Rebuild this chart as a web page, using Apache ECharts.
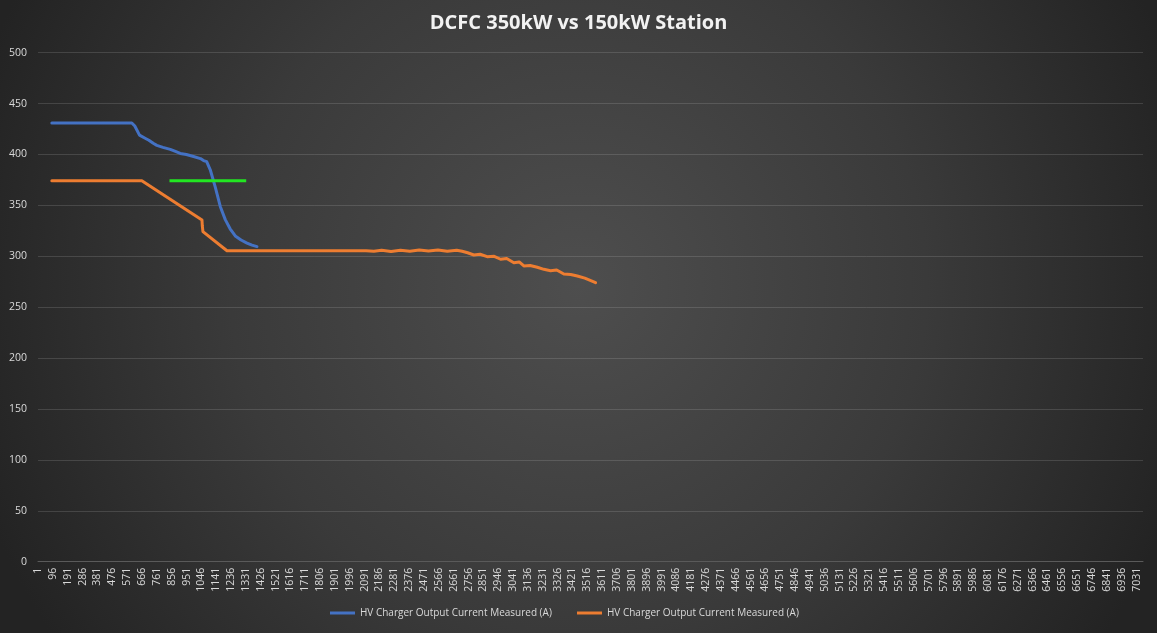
<!DOCTYPE html>
<html>
<head>
<meta charset="utf-8">
<script src="https://cdn.jsdelivr.net/npm/echarts@6/dist/echarts.min.js"></script>
<style>
html,body{margin:0;padding:0;background:#2a2a2a;}
#chart{width:1157px;height:633px;}
</style>
</head>
<body>
<div id="chart"></div>
<script>
// ---- data ----
const TITLE = 'DCFC 350kW vs 150kW Station';
const SERIES_NAME = 'HV Charger Output Current Measured (A)';
const SAMPLE_COUNT = 7072;          // number of samples on the category axis
const LABEL_STEP = 95;              // every 95th sample is labelled (1, 96, 191 ...)

// 350 kW station (blue)
const blueX = [89, 601, 620, 650, 686, 710, 738, 761, 800, 847, 880, 911, 950, 996, 1040, 1060, 1080, 1103, 1135, 1167, 1199, 1230, 1263, 1300, 1338, 1370, 1402];
const blueY = [431, 431, 428, 419, 416, 414, 411, 409, 407, 405, 403, 401, 400, 398, 396, 394, 393, 385, 368, 349, 336, 327, 320, 316, 313, 311, 309.5];

// 150 kW station (orange)
const orangeX = [89, 665, 1050, 1052, 1056, 1210, 1500, 1800, 2100, 2150, 2200, 2260, 2320, 2380, 2440, 2500, 2560, 2620, 2680, 2715, 2750, 2790, 2830, 2875, 2920, 2961, 3000, 3046, 3080, 3110, 3150, 3196, 3238, 3281, 3320, 3366, 3410, 3452, 3500, 3569];
const orangeY = [374.3, 374.3, 335.7, 330, 324.2, 305.5, 305.5, 305.5, 305.5, 305, 306, 304.8, 306, 305, 306.2, 305.2, 306.2, 305, 306, 305, 303.5, 301.3, 302, 299.6, 300, 297.1, 297.8, 293.7, 294.5, 290.5, 291, 289.2, 287.2, 285.9, 286.5, 282.6, 282.2, 280.7, 278.5, 274.1];

// target level (green)
const greenX = [842, 1333];
const greenY = [374.3, 374.3];

// ---- build ----
const categories = [];
for (let i = 1; i <= SAMPLE_COUNT; i++) categories.push(String(i));
const pairs = (xs, ys) => xs.map((x, i) => [String(x), ys[i]]);

const chart = echarts.init(document.getElementById('chart'), null, {renderer: 'canvas'});
const txt = '#d9d9d9';
const font = 'Open Sans';
const legendText = {color: txt, fontFamily: font, fontSize: 10};
chart.setOption({
  animation: false,
  backgroundColor: {
    type: 'radial', x: 0.5, y: 0.45, r: 1.0,
    colorStops: [
      {offset: 0, color: '#4e4e4e'},
      {offset: 0.55, color: '#3a3a3a'},
      {offset: 1, color: '#232323'}
    ]
  },
  title: {
    text: TITLE, left: 'center', top: 8,
    textStyle: {color: '#f2f2f2', fontFamily: font, fontWeight: 'bold', fontSize: 20}
  },
  legend: [
    {bottom: 15, left: 330, padding: 0, itemWidth: 25, itemHeight: 3, itemGap: 4, icon: 'rect',
     data: [SERIES_NAME], textStyle: legendText},
    {bottom: 15, left: 577, padding: 0, itemWidth: 25, itemHeight: 3, itemGap: 4, icon: 'rect',
     data: [SERIES_NAME + ' '], textStyle: legendText}
  ],
  grid: {left: 38, right: 14, top: 52.7, bottom: 71.3, containLabel: false},
  xAxis: {
    type: 'category', data: categories, boundaryGap: true,
    axisLine: {lineStyle: {color: '#5a5a5a', width: 1}},
    axisTick: {show: false},
    axisLabel: {interval: LABEL_STEP - 1, rotate: 90, color: txt, fontFamily: font, fontSize: 10.5, margin: 6}
  },
  yAxis: {
    type: 'value', min: 0, max: 500, interval: 50,
    axisLine: {show: false}, axisTick: {show: false},
    splitLine: {lineStyle: {color: 'rgba(217,217,217,0.16)', width: 1}},
    axisLabel: {color: txt, fontFamily: font, fontSize: 10.5, margin: 11}
  },
  series: [
    {name: SERIES_NAME, type: 'line', data: pairs(blueX, blueY), showSymbol: false, symbol: 'none',
     color: '#4472c4', lineStyle: {width: 3, color: '#4472c4', cap: 'round', join: 'round'}},
    {name: SERIES_NAME + ' ', type: 'line', data: pairs(orangeX, orangeY), showSymbol: false, symbol: 'none',
     color: '#ed7d31', lineStyle: {width: 3, color: '#ed7d31', cap: 'round', join: 'round'}},
    {name: 'target', type: 'line', data: pairs(greenX, greenY), showSymbol: false, symbol: 'none',
     color: '#22e622', lineStyle: {width: 3, color: '#22e622', cap: 'butt'}}
  ]
});
</script>
</body>
</html>
